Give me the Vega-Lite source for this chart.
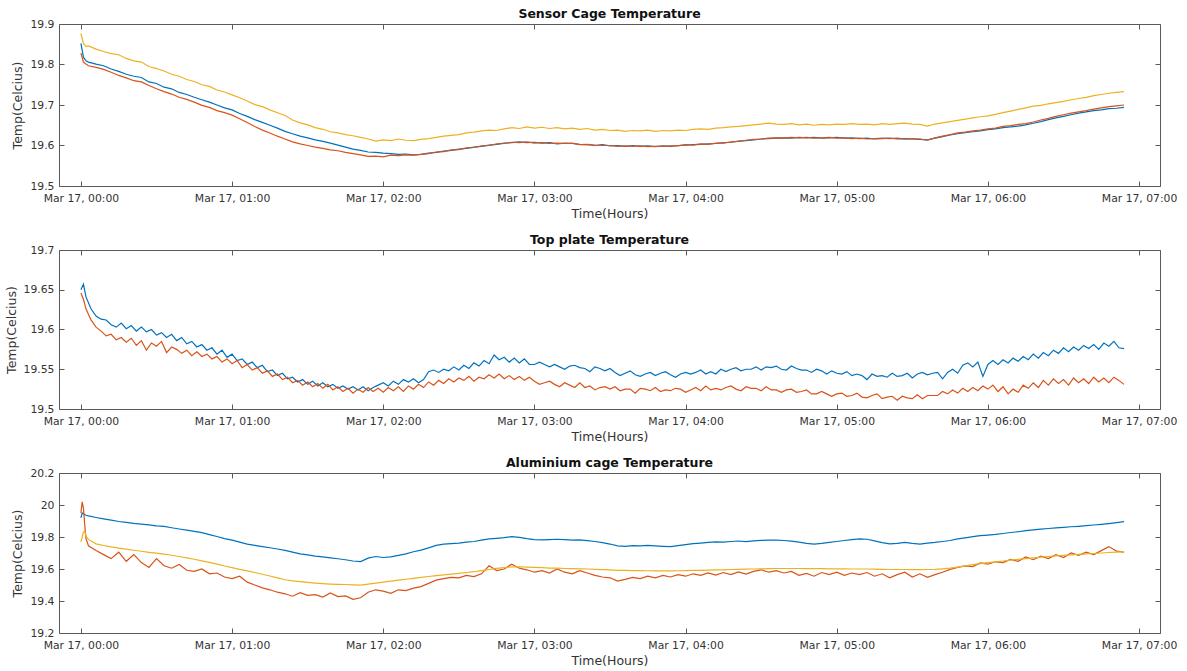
{
  "$schema": "https://vega.github.io/schema/vega-lite/v6.json",
  "padding": {"left": 4, "top": 7, "right": 5, "bottom": 2},
  "background": "white",
  "spacing": 12,
  "config": {
    "font": "DejaVu Sans",
    "view": {"stroke": "#5a5a5a", "strokeWidth": 1},
    "axis": {
      "grid": false,
      "domain": false,
      "tickColor": "#5a5a5a",
      "tickSize": -5,
      "labelFont": "DejaVu Sans",
      "labelFontSize": 10.8,
      "labelColor": "#333333",
      "titleFont": "DejaVu Sans",
      "titleFontSize": 12.5,
      "titleFontWeight": "normal",
      "titleColor": "#333333"
    },
    "title": {"font": "DejaVu Sans", "fontSize": 12.5, "fontWeight": "bold", "color": "#111111", "frame": "group", "offset": -2},
    "line": {"strokeWidth": 1.2, "clip": true}
  },
  "datasets": {
    "sensor": [
      {"t":0,"b":19.852,"r":19.828,"y":19.877},{"t":1,"b":19.818,"r":19.806,"y":19.852},{"t":2,"b":19.809,"r":19.801,"y":19.845},
      {"t":3,"b":19.806,"r":19.797,"y":19.846},{"t":6,"b":19.801,"r":19.793,"y":19.838},{"t":9,"b":19.797,"r":19.788,"y":19.832},
      {"t":12,"b":19.789,"r":19.781,"y":19.827},{"t":15,"b":19.783,"r":19.773,"y":19.824},{"t":18,"b":19.776,"r":19.767,"y":19.815},
      {"t":21,"b":19.771,"r":19.760,"y":19.809},{"t":24,"b":19.768,"r":19.757,"y":19.806},{"t":27,"b":19.757,"r":19.748,"y":19.795},
      {"t":30,"b":19.753,"r":19.740,"y":19.790},{"t":33,"b":19.744,"r":19.733,"y":19.784},{"t":36,"b":19.740,"r":19.727,"y":19.776},
      {"t":39,"b":19.731,"r":19.719,"y":19.771},{"t":42,"b":19.726,"r":19.714,"y":19.763},{"t":45,"b":19.719,"r":19.707,"y":19.758},
      {"t":48,"b":19.713,"r":19.699,"y":19.750},{"t":51,"b":19.707,"r":19.694,"y":19.746},{"t":54,"b":19.700,"r":19.686,"y":19.737},
      {"t":57,"b":19.693,"r":19.681,"y":19.732},{"t":60,"b":19.688,"r":19.675,"y":19.725},{"t":63,"b":19.679,"r":19.666,"y":19.718},
      {"t":66,"b":19.672,"r":19.657,"y":19.710},{"t":69,"b":19.664,"r":19.647,"y":19.701},{"t":72,"b":19.657,"r":19.638,"y":19.696},
      {"t":75,"b":19.650,"r":19.631,"y":19.688},{"t":78,"b":19.643,"r":19.623,"y":19.681},{"t":81,"b":19.635,"r":19.616,"y":19.674},
      {"t":84,"b":19.629,"r":19.609,"y":19.663},{"t":87,"b":19.623,"r":19.604,"y":19.656},{"t":90,"b":19.619,"r":19.600,"y":19.651},
      {"t":93,"b":19.614,"r":19.596,"y":19.644},{"t":96,"b":19.610,"r":19.593,"y":19.640},{"t":99,"b":19.606,"r":19.589,"y":19.634},
      {"t":102,"b":19.601,"r":19.587,"y":19.631},{"t":105,"b":19.596,"r":19.583,"y":19.627},{"t":108,"b":19.591,"r":19.580,"y":19.624},
      {"t":111,"b":19.588,"r":19.577,"y":19.620},{"t":114,"b":19.584,"r":19.573,"y":19.616},{"t":117,"b":19.583,"r":19.574,"y":19.611},
      {"t":120,"b":19.581,"r":19.572,"y":19.614},{"t":123,"b":19.580,"r":19.576,"y":19.612},{"t":126,"b":19.578,"r":19.575,"y":19.616},
      {"t":129,"b":19.579,"r":19.577,"y":19.613},{"t":132,"b":19.577,"r":19.576,"y":19.612},{"t":135,"b":19.578,"r":19.578,"y":19.615},
      {"t":138,"b":19.581,"r":19.580,"y":19.617},{"t":141,"b":19.583,"r":19.584,"y":19.620},{"t":144,"b":19.586,"r":19.585,"y":19.623},
      {"t":147,"b":19.588,"r":19.589,"y":19.625},{"t":150,"b":19.591,"r":19.590,"y":19.627},{"t":153,"b":19.593,"r":19.594,"y":19.631},
      {"t":156,"b":19.596,"r":19.595,"y":19.633},{"t":159,"b":19.598,"r":19.599,"y":19.636},{"t":162,"b":19.601,"r":19.600,"y":19.638},
      {"t":165,"b":19.603,"r":19.604,"y":19.637},{"t":168,"b":19.606,"r":19.605,"y":19.641},{"t":171,"b":19.607,"r":19.608,"y":19.644},
      {"t":174,"b":19.609,"r":19.607,"y":19.642},{"t":177,"b":19.607,"r":19.609,"y":19.646},{"t":180,"b":19.608,"r":19.606,"y":19.643},
      {"t":183,"b":19.606,"r":19.607,"y":19.645},{"t":186,"b":19.607,"r":19.605,"y":19.642},{"t":189,"b":19.604,"r":19.606,"y":19.644},
      {"t":192,"b":19.606,"r":19.605,"y":19.641},{"t":195,"b":19.605,"r":19.606,"y":19.643},{"t":198,"b":19.603,"r":19.602,"y":19.640},
      {"t":201,"b":19.602,"r":19.603,"y":19.642},{"t":204,"b":19.600,"r":19.601,"y":19.638},{"t":207,"b":19.602,"r":19.600,"y":19.640},
      {"t":210,"b":19.599,"r":19.600,"y":19.637},{"t":213,"b":19.600,"r":19.598,"y":19.638},{"t":216,"b":19.598,"r":19.599,"y":19.635},
      {"t":219,"b":19.600,"r":19.598,"y":19.637},{"t":222,"b":19.598,"r":19.599,"y":19.636},{"t":225,"b":19.599,"r":19.597,"y":19.638},
      {"t":228,"b":19.597,"r":19.598,"y":19.635},{"t":231,"b":19.599,"r":19.598,"y":19.637},{"t":234,"b":19.598,"r":19.599,"y":19.636},
      {"t":237,"b":19.600,"r":19.599,"y":19.638},{"t":240,"b":19.601,"r":19.602,"y":19.637},{"t":243,"b":19.602,"r":19.601,"y":19.640},
      {"t":246,"b":19.603,"r":19.604,"y":19.641},{"t":249,"b":19.604,"r":19.603,"y":19.640},{"t":252,"b":19.605,"r":19.606,"y":19.643},
      {"t":255,"b":19.607,"r":19.606,"y":19.644},{"t":258,"b":19.608,"r":19.609,"y":19.646},{"t":261,"b":19.611,"r":19.610,"y":19.647},
      {"t":264,"b":19.612,"r":19.613,"y":19.649},{"t":267,"b":19.614,"r":19.615,"y":19.651},{"t":270,"b":19.616,"r":19.616,"y":19.653},
      {"t":273,"b":19.617,"r":19.618,"y":19.655},{"t":276,"b":19.618,"r":19.619,"y":19.653},{"t":279,"b":19.619,"r":19.618,"y":19.652},
      {"t":282,"b":19.618,"r":19.620,"y":19.654},{"t":285,"b":19.620,"r":19.619,"y":19.651},{"t":288,"b":19.619,"r":19.620,"y":19.653},
      {"t":291,"b":19.620,"r":19.618,"y":19.650},{"t":294,"b":19.618,"r":19.619,"y":19.652},{"t":297,"b":19.619,"r":19.620,"y":19.651},
      {"t":300,"b":19.620,"r":19.618,"y":19.653},{"t":303,"b":19.618,"r":19.619,"y":19.652},{"t":306,"b":19.619,"r":19.617,"y":19.654},
      {"t":309,"b":19.617,"r":19.618,"y":19.652},{"t":312,"b":19.618,"r":19.616,"y":19.653},{"t":315,"b":19.616,"r":19.617,"y":19.651},
      {"t":318,"b":19.617,"r":19.618,"y":19.654},{"t":321,"b":19.618,"r":19.617,"y":19.652},{"t":324,"b":19.616,"r":19.618,"y":19.654},
      {"t":327,"b":19.617,"r":19.616,"y":19.655},{"t":330,"b":19.616,"r":19.617,"y":19.653},{"t":333,"b":19.615,"r":19.616,"y":19.652},
      {"t":336,"b":19.614,"r":19.613,"y":19.648},{"t":339,"b":19.618,"r":19.619,"y":19.653},{"t":342,"b":19.622,"r":19.623,"y":19.656},
      {"t":345,"b":19.626,"r":19.627,"y":19.659},{"t":348,"b":19.629,"r":19.631,"y":19.662},{"t":351,"b":19.632,"r":19.633,"y":19.665},
      {"t":354,"b":19.634,"r":19.636,"y":19.668},{"t":357,"b":19.636,"r":19.638,"y":19.671},{"t":360,"b":19.639,"r":19.641,"y":19.673},
      {"t":363,"b":19.641,"r":19.643,"y":19.677},{"t":366,"b":19.644,"r":19.647,"y":19.681},{"t":369,"b":19.646,"r":19.649,"y":19.685},
      {"t":372,"b":19.648,"r":19.652,"y":19.689},{"t":375,"b":19.651,"r":19.654,"y":19.693},{"t":378,"b":19.655,"r":19.658,"y":19.697},
      {"t":381,"b":19.659,"r":19.663,"y":19.699},{"t":384,"b":19.664,"r":19.667,"y":19.703},{"t":387,"b":19.668,"r":19.672,"y":19.706},
      {"t":390,"b":19.672,"r":19.676,"y":19.709},{"t":393,"b":19.676,"r":19.680,"y":19.713},{"t":396,"b":19.680,"r":19.683,"y":19.716},
      {"t":399,"b":19.683,"r":19.686,"y":19.719},{"t":402,"b":19.686,"r":19.690,"y":19.723},{"t":405,"b":19.688,"r":19.693,"y":19.726},
      {"t":408,"b":19.691,"r":19.696,"y":19.729},{"t":411,"b":19.692,"r":19.698,"y":19.731},{"t":414,"b":19.694,"r":19.700,"y":19.733}
    ],
    "plate": [
      {"t":0,"b":19.650,"r":19.646},{"t":1,"b":19.657,"r":19.638},{"t":2,"b":19.641,"r":19.626},{"t":4,"b":19.626,"r":19.612},
      {"t":6,"b":19.617,"r":19.603},{"t":8,"b":19.613,"r":19.598},{"t":10,"b":19.612,"r":19.592},{"t":12,"b":19.606,"r":19.594},
      {"t":14,"b":19.603,"r":19.587},{"t":16,"b":19.608,"r":19.590},{"t":18,"b":19.601,"r":19.584},{"t":20,"b":19.605,"r":19.589},
      {"t":22,"b":19.598,"r":19.580},{"t":24,"b":19.603,"r":19.586},{"t":26,"b":19.597,"r":19.574},{"t":28,"b":19.600,"r":19.583},
      {"t":30,"b":19.593,"r":19.579},{"t":32,"b":19.596,"r":19.585},{"t":34,"b":19.590,"r":19.571},{"t":36,"b":19.594,"r":19.578},
      {"t":38,"b":19.586,"r":19.575},{"t":40,"b":19.590,"r":19.570},{"t":42,"b":19.582,"r":19.574},{"t":44,"b":19.585,"r":19.567},
      {"t":46,"b":19.578,"r":19.572},{"t":48,"b":19.581,"r":19.566},{"t":50,"b":19.574,"r":19.569},{"t":52,"b":19.577,"r":19.563},
      {"t":54,"b":19.569,"r":19.566},{"t":56,"b":19.574,"r":19.559},{"t":58,"b":19.565,"r":19.563},{"t":60,"b":19.569,"r":19.557},
      {"t":62,"b":19.561,"r":19.561},{"t":64,"b":19.563,"r":19.552},{"t":66,"b":19.556,"r":19.556},{"t":68,"b":19.559,"r":19.549},
      {"t":70,"b":19.552,"r":19.552},{"t":72,"b":19.555,"r":19.545},{"t":74,"b":19.547,"r":19.548},{"t":76,"b":19.549,"r":19.541},
      {"t":78,"b":19.542,"r":19.544},{"t":80,"b":19.545,"r":19.537},{"t":82,"b":19.538,"r":19.540},{"t":84,"b":19.540,"r":19.533},
      {"t":86,"b":19.534,"r":19.536},{"t":88,"b":19.537,"r":19.530},{"t":90,"b":19.531,"r":19.534},{"t":92,"b":19.535,"r":19.528},
      {"t":94,"b":19.529,"r":19.532},{"t":96,"b":19.533,"r":19.526},{"t":98,"b":19.528,"r":19.531},{"t":100,"b":19.531,"r":19.524},
      {"t":102,"b":19.526,"r":19.528},{"t":104,"b":19.529,"r":19.522},{"t":106,"b":19.525,"r":19.526},{"t":108,"b":19.528,"r":19.520},
      {"t":110,"b":19.524,"r":19.525},{"t":112,"b":19.528,"r":19.521},{"t":114,"b":19.523,"r":19.527},{"t":116,"b":19.527,"r":19.522},
      {"t":118,"b":19.530,"r":19.526},{"t":120,"b":19.533,"r":19.521},{"t":122,"b":19.529,"r":19.527},{"t":124,"b":19.535,"r":19.523},
      {"t":126,"b":19.531,"r":19.528},{"t":128,"b":19.537,"r":19.522},{"t":130,"b":19.534,"r":19.529},{"t":132,"b":19.538,"r":19.525},
      {"t":134,"b":19.533,"r":19.531},{"t":136,"b":19.537,"r":19.527},{"t":138,"b":19.547,"r":19.534},{"t":140,"b":19.549,"r":19.530},
      {"t":142,"b":19.546,"r":19.536},{"t":144,"b":19.550,"r":19.532},{"t":146,"b":19.548,"r":19.538},{"t":148,"b":19.553,"r":19.534},
      {"t":150,"b":19.549,"r":19.539},{"t":152,"b":19.555,"r":19.536},{"t":154,"b":19.551,"r":19.541},{"t":156,"b":19.558,"r":19.535},
      {"t":158,"b":19.554,"r":19.540},{"t":160,"b":19.561,"r":19.538},{"t":162,"b":19.557,"r":19.543},{"t":164,"b":19.568,"r":19.539},
      {"t":166,"b":19.562,"r":19.544},{"t":168,"b":19.565,"r":19.538},{"t":170,"b":19.559,"r":19.542},{"t":172,"b":19.564,"r":19.537},
      {"t":174,"b":19.558,"r":19.541},{"t":176,"b":19.563,"r":19.536},{"t":178,"b":19.556,"r":19.540},{"t":180,"b":19.556,"r":19.535},
      {"t":182,"b":19.559,"r":19.531},{"t":184,"b":19.556,"r":19.533},{"t":186,"b":19.553,"r":19.535},{"t":188,"b":19.556,"r":19.531},
      {"t":190,"b":19.553,"r":19.528},{"t":192,"b":19.550,"r":19.533},{"t":194,"b":19.554,"r":19.530},{"t":196,"b":19.555,"r":19.527},
      {"t":198,"b":19.552,"r":19.533},{"t":200,"b":19.551,"r":19.527},{"t":202,"b":19.547,"r":19.529},{"t":204,"b":19.553,"r":19.524},
      {"t":206,"b":19.551,"r":19.527},{"t":208,"b":19.548,"r":19.528},{"t":210,"b":19.551,"r":19.525},{"t":212,"b":19.546,"r":19.528},
      {"t":214,"b":19.542,"r":19.523},{"t":216,"b":19.545,"r":19.525},{"t":218,"b":19.548,"r":19.525},{"t":220,"b":19.543,"r":19.520},
      {"t":222,"b":19.541,"r":19.526},{"t":224,"b":19.544,"r":19.525},{"t":226,"b":19.546,"r":19.523},{"t":228,"b":19.542,"r":19.527},
      {"t":230,"b":19.545,"r":19.522},{"t":232,"b":19.547,"r":19.524},{"t":234,"b":19.543,"r":19.523},{"t":236,"b":19.540,"r":19.526},
      {"t":238,"b":19.544,"r":19.525},{"t":240,"b":19.546,"r":19.521},{"t":242,"b":19.544,"r":19.524},{"t":244,"b":19.546,"r":19.527},
      {"t":246,"b":19.549,"r":19.523},{"t":248,"b":19.544,"r":19.529},{"t":250,"b":19.547,"r":19.524},{"t":252,"b":19.544,"r":19.526},
      {"t":254,"b":19.550,"r":19.524},{"t":256,"b":19.547,"r":19.527},{"t":258,"b":19.550,"r":19.529},{"t":260,"b":19.552,"r":19.525},
      {"t":262,"b":19.548,"r":19.523},{"t":264,"b":19.550,"r":19.528},{"t":266,"b":19.550,"r":19.526},{"t":268,"b":19.553,"r":19.526},
      {"t":270,"b":19.549,"r":19.523},{"t":272,"b":19.553,"r":19.528},{"t":274,"b":19.552,"r":19.524},{"t":276,"b":19.554,"r":19.524},
      {"t":278,"b":19.550,"r":19.521},{"t":280,"b":19.549,"r":19.524},{"t":282,"b":19.554,"r":19.525},{"t":284,"b":19.551,"r":19.521},
      {"t":286,"b":19.549,"r":19.522},{"t":288,"b":19.549,"r":19.524},{"t":290,"b":19.546,"r":19.519},{"t":292,"b":19.550,"r":19.519},
      {"t":294,"b":19.548,"r":19.522},{"t":296,"b":19.544,"r":19.519},{"t":298,"b":19.548,"r":19.516},{"t":300,"b":19.545,"r":19.519},
      {"t":302,"b":19.544,"r":19.520},{"t":304,"b":19.547,"r":19.516},{"t":306,"b":19.542,"r":19.517},{"t":308,"b":19.544,"r":19.520},
      {"t":310,"b":19.542,"r":19.515},{"t":312,"b":19.537,"r":19.514},{"t":314,"b":19.544,"r":19.517},{"t":316,"b":19.541,"r":19.519},
      {"t":318,"b":19.542,"r":19.513},{"t":320,"b":19.540,"r":19.515},{"t":322,"b":19.545,"r":19.516},{"t":324,"b":19.541,"r":19.511},
      {"t":326,"b":19.542,"r":19.516},{"t":328,"b":19.545,"r":19.514},{"t":330,"b":19.539,"r":19.513},{"t":332,"b":19.544,"r":19.518},
      {"t":334,"b":19.546,"r":19.513},{"t":336,"b":19.543,"r":19.517},{"t":338,"b":19.545,"r":19.517},{"t":340,"b":19.546,"r":19.517},
      {"t":342,"b":19.538,"r":19.522},{"t":344,"b":19.546,"r":19.519},{"t":346,"b":19.550,"r":19.524},{"t":348,"b":19.545,"r":19.520},
      {"t":350,"b":19.555,"r":19.526},{"t":352,"b":19.558,"r":19.522},{"t":354,"b":19.553,"r":19.527},{"t":356,"b":19.559,"r":19.523},
      {"t":358,"b":19.541,"r":19.529},{"t":360,"b":19.556,"r":19.525},{"t":362,"b":19.561,"r":19.530},{"t":364,"b":19.556,"r":19.522},
      {"t":366,"b":19.562,"r":19.528},{"t":368,"b":19.558,"r":19.519},{"t":370,"b":19.564,"r":19.525},{"t":372,"b":19.560,"r":19.521},
      {"t":374,"b":19.566,"r":19.530},{"t":376,"b":19.562,"r":19.526},{"t":378,"b":19.569,"r":19.533},{"t":380,"b":19.564,"r":19.527},
      {"t":382,"b":19.571,"r":19.536},{"t":384,"b":19.567,"r":19.530},{"t":386,"b":19.574,"r":19.538},{"t":388,"b":19.570,"r":19.532},
      {"t":390,"b":19.577,"r":19.537},{"t":392,"b":19.572,"r":19.530},{"t":394,"b":19.578,"r":19.539},{"t":396,"b":19.574,"r":19.533},
      {"t":398,"b":19.580,"r":19.538},{"t":400,"b":19.576,"r":19.532},{"t":402,"b":19.581,"r":19.540},{"t":404,"b":19.575,"r":19.534},
      {"t":406,"b":19.583,"r":19.539},{"t":408,"b":19.579,"r":19.533},{"t":410,"b":19.585,"r":19.540},{"t":412,"b":19.577,"r":19.536},
      {"t":414,"b":19.576,"r":19.531}
    ],
    "aluminium": [
      {"t":0,"b":19.920,"r":19.950,"y":19.770},{"t":0.5,"b":19.950,"r":20.020,"y":19.800},{"t":1,"b":19.945,"r":19.980,"y":19.830},
      {"t":1.5,"b":19.940,"r":19.880,"y":19.840},{"t":2,"b":19.936,"r":19.790,"y":19.805},{"t":3,"b":19.932,"r":19.745,"y":19.785},
      {"t":6,"b":19.922,"r":19.715,"y":19.757},{"t":9,"b":19.913,"r":19.690,"y":19.747},{"t":12,"b":19.905,"r":19.665,"y":19.738},
      {"t":15,"b":19.897,"r":19.705,"y":19.731},{"t":18,"b":19.891,"r":19.648,"y":19.724},{"t":21,"b":19.885,"r":19.690,"y":19.717},
      {"t":24,"b":19.881,"r":19.640,"y":19.711},{"t":27,"b":19.876,"r":19.610,"y":19.704},{"t":30,"b":19.870,"r":19.665,"y":19.699},
      {"t":33,"b":19.866,"r":19.620,"y":19.693},{"t":36,"b":19.858,"r":19.605,"y":19.686},{"t":39,"b":19.850,"r":19.628,"y":19.678},
      {"t":42,"b":19.843,"r":19.592,"y":19.669},{"t":45,"b":19.835,"r":19.585,"y":19.661},{"t":48,"b":19.827,"r":19.600,"y":19.651},
      {"t":51,"b":19.815,"r":19.570,"y":19.641},{"t":54,"b":19.803,"r":19.575,"y":19.630},{"t":57,"b":19.790,"r":19.550,"y":19.619},
      {"t":60,"b":19.780,"r":19.540,"y":19.609},{"t":63,"b":19.768,"r":19.555,"y":19.598},{"t":66,"b":19.755,"r":19.518,"y":19.588},
      {"t":69,"b":19.748,"r":19.500,"y":19.578},{"t":72,"b":19.740,"r":19.482,"y":19.567},{"t":75,"b":19.733,"r":19.470,"y":19.556},
      {"t":78,"b":19.725,"r":19.455,"y":19.545},{"t":81,"b":19.716,"r":19.445,"y":19.533},{"t":84,"b":19.706,"r":19.430,"y":19.526},
      {"t":87,"b":19.695,"r":19.452,"y":19.521},{"t":90,"b":19.688,"r":19.435,"y":19.516},{"t":93,"b":19.680,"r":19.440,"y":19.512},
      {"t":96,"b":19.676,"r":19.425,"y":19.509},{"t":99,"b":19.670,"r":19.450,"y":19.506},{"t":102,"b":19.664,"r":19.428,"y":19.504},
      {"t":105,"b":19.658,"r":19.432,"y":19.503},{"t":108,"b":19.650,"r":19.410,"y":19.501},{"t":111,"b":19.646,"r":19.420,"y":19.499},
      {"t":114,"b":19.668,"r":19.455,"y":19.505},{"t":117,"b":19.678,"r":19.470,"y":19.512},{"t":120,"b":19.672,"r":19.462,"y":19.518},
      {"t":123,"b":19.676,"r":19.448,"y":19.524},{"t":126,"b":19.685,"r":19.470,"y":19.530},{"t":129,"b":19.695,"r":19.465,"y":19.536},
      {"t":132,"b":19.708,"r":19.480,"y":19.542},{"t":135,"b":19.718,"r":19.490,"y":19.548},{"t":138,"b":19.732,"r":19.510,"y":19.553},
      {"t":141,"b":19.748,"r":19.530,"y":19.558},{"t":144,"b":19.755,"r":19.540,"y":19.563},{"t":147,"b":19.758,"r":19.548,"y":19.568},
      {"t":150,"b":19.762,"r":19.545,"y":19.573},{"t":153,"b":19.768,"r":19.560,"y":19.578},{"t":156,"b":19.772,"r":19.552,"y":19.583},
      {"t":159,"b":19.780,"r":19.570,"y":19.590},{"t":162,"b":19.788,"r":19.620,"y":19.597},{"t":165,"b":19.792,"r":19.590,"y":19.604},
      {"t":168,"b":19.796,"r":19.600,"y":19.609},{"t":171,"b":19.802,"r":19.630,"y":19.613},{"t":174,"b":19.798,"r":19.605,"y":19.614},
      {"t":177,"b":19.790,"r":19.595,"y":19.612},{"t":180,"b":19.784,"r":19.580,"y":19.610},{"t":183,"b":19.782,"r":19.590,"y":19.608},
      {"t":186,"b":19.784,"r":19.575,"y":19.606},{"t":189,"b":19.786,"r":19.600,"y":19.605},{"t":192,"b":19.783,"r":19.580,"y":19.603},
      {"t":195,"b":19.780,"r":19.570,"y":19.602},{"t":198,"b":19.782,"r":19.590,"y":19.601},{"t":201,"b":19.777,"r":19.575,"y":19.600},
      {"t":204,"b":19.772,"r":19.560,"y":19.598},{"t":207,"b":19.765,"r":19.550,"y":19.596},{"t":210,"b":19.756,"r":19.545,"y":19.594},
      {"t":213,"b":19.745,"r":19.525,"y":19.592},{"t":216,"b":19.742,"r":19.535,"y":19.591},{"t":219,"b":19.746,"r":19.548,"y":19.590},
      {"t":222,"b":19.744,"r":19.540,"y":19.590},{"t":225,"b":19.748,"r":19.555,"y":19.589},{"t":228,"b":19.745,"r":19.545,"y":19.588},
      {"t":231,"b":19.742,"r":19.560,"y":19.588},{"t":234,"b":19.740,"r":19.550,"y":19.588},{"t":237,"b":19.746,"r":19.565,"y":19.589},
      {"t":240,"b":19.752,"r":19.555,"y":19.590},{"t":243,"b":19.758,"r":19.570,"y":19.591},{"t":246,"b":19.762,"r":19.560,"y":19.592},
      {"t":249,"b":19.766,"r":19.575,"y":19.593},{"t":252,"b":19.770,"r":19.562,"y":19.594},{"t":255,"b":19.768,"r":19.578,"y":19.595},
      {"t":258,"b":19.772,"r":19.565,"y":19.597},{"t":261,"b":19.775,"r":19.582,"y":19.598},{"t":264,"b":19.771,"r":19.568,"y":19.599},
      {"t":267,"b":19.776,"r":19.585,"y":19.600},{"t":270,"b":19.779,"r":19.595,"y":19.601},{"t":273,"b":19.781,"r":19.580,"y":19.602},
      {"t":276,"b":19.780,"r":19.590,"y":19.603},{"t":279,"b":19.778,"r":19.575,"y":19.603},{"t":282,"b":19.774,"r":19.585,"y":19.603},
      {"t":285,"b":19.768,"r":19.560,"y":19.603},{"t":288,"b":19.760,"r":19.572,"y":19.602},{"t":291,"b":19.756,"r":19.555,"y":19.602},
      {"t":294,"b":19.760,"r":19.578,"y":19.602},{"t":297,"b":19.766,"r":19.565,"y":19.601},{"t":300,"b":19.772,"r":19.580,"y":19.601},
      {"t":303,"b":19.778,"r":19.560,"y":19.601},{"t":306,"b":19.784,"r":19.575,"y":19.600},{"t":309,"b":19.788,"r":19.565,"y":19.600},
      {"t":312,"b":19.786,"r":19.578,"y":19.600},{"t":315,"b":19.776,"r":19.555,"y":19.599},{"t":318,"b":19.765,"r":19.570,"y":19.598},
      {"t":321,"b":19.757,"r":19.545,"y":19.597},{"t":324,"b":19.760,"r":19.565,"y":19.597},{"t":327,"b":19.766,"r":19.580,"y":19.597},
      {"t":330,"b":19.760,"r":19.550,"y":19.596},{"t":333,"b":19.756,"r":19.570,"y":19.596},{"t":336,"b":19.762,"r":19.548,"y":19.597},
      {"t":339,"b":19.766,"r":19.565,"y":19.598},{"t":342,"b":19.772,"r":19.580,"y":19.601},{"t":345,"b":19.778,"r":19.598,"y":19.605},
      {"t":348,"b":19.788,"r":19.610,"y":19.612},{"t":351,"b":19.795,"r":19.620,"y":19.620},{"t":354,"b":19.802,"r":19.615,"y":19.627},
      {"t":357,"b":19.808,"r":19.638,"y":19.634},{"t":360,"b":19.812,"r":19.630,"y":19.640},{"t":363,"b":19.816,"r":19.645,"y":19.645},
      {"t":366,"b":19.822,"r":19.640,"y":19.650},{"t":369,"b":19.828,"r":19.660,"y":19.655},{"t":372,"b":19.833,"r":19.648,"y":19.660},
      {"t":375,"b":19.840,"r":19.675,"y":19.665},{"t":378,"b":19.845,"r":19.658,"y":19.670},{"t":381,"b":19.849,"r":19.680,"y":19.674},
      {"t":384,"b":19.853,"r":19.665,"y":19.678},{"t":387,"b":19.857,"r":19.690,"y":19.682},{"t":390,"b":19.860,"r":19.672,"y":19.685},
      {"t":393,"b":19.864,"r":19.700,"y":19.688},{"t":396,"b":19.867,"r":19.685,"y":19.691},{"t":399,"b":19.871,"r":19.705,"y":19.694},
      {"t":402,"b":19.875,"r":19.690,"y":19.697},{"t":405,"b":19.879,"r":19.715,"y":19.700},{"t":408,"b":19.884,"r":19.740,"y":19.703},
      {"t":411,"b":19.890,"r":19.712,"y":19.706},{"t":414,"b":19.896,"r":19.705,"y":19.709}
    ]
  },
  "vconcat": [
    {
      "title": {"text": "Sensor Cage Temperature"},
      "width": 1101,
      "height": 162,
      "data": {"name": "sensor"},
      "transform": [{"fold": ["b", "r", "y"], "as": ["series", "temp"]}],
      "layer": [
        {
          "transform": [{"filter": "datum.series != 'y'"}],
          "mark": {"type": "line"},
          "encoding": {
            "x": {"field": "t", "type": "quantitative", "scale": {"domain": [-8.7, 428.3], "nice": false, "zero": false},
              "axis": {"orient": "bottom", "values": [0, 60, 120, 180, 240, 300, 360, 420], "labelExpr": "'Mar 17, 0' + datum.value / 60 + ':00'", "labelPadding": 11, "labelFlush": false, "labelBound": false, "title": "Time(Hours)", "titlePadding": 5}},
            "y": {"field": "temp", "type": "quantitative", "scale": {"domain": [19.5, 19.9], "nice": false, "zero": false},
              "axis": {"orient": "left", "values": [19.5, 19.6, 19.7, 19.8, 19.9], "format": "~g", "labelPadding": 10, "minExtent": 35, "maxExtent": 35, "title": "Temp(Celcius)", "titlePadding": 0}},
            "color": {"field": "series", "type": "nominal", "scale": {"domain": ["b", "r", "y"], "range": ["#0072BD", "#D95319", "#EDB120"]}, "legend": null}
          }
        },
        {
          "transform": [{"filter": "datum.series == 'y'"}],
          "mark": {"type": "line"},
          "encoding": {
            "x": {"field": "t", "type": "quantitative", "scale": {"domain": [-8.7, 428.3], "nice": false, "zero": false},
              "axis": {"orient": "top", "values": [0, 60, 120, 180, 240, 300, 360, 420], "labels": false, "title": null, "minExtent": 0, "maxExtent": 0}},
            "y": {"field": "temp", "type": "quantitative", "scale": {"domain": [19.5, 19.9], "nice": false, "zero": false},
              "axis": {"orient": "right", "values": [19.5, 19.6, 19.7, 19.8, 19.9], "labels": false, "title": null, "minExtent": 0, "maxExtent": 0}},
            "color": {"field": "series", "type": "nominal", "scale": {"domain": ["b", "r", "y"], "range": ["#0072BD", "#D95319", "#EDB120"]}, "legend": null}
          }
        }
      ],
      "resolve": {"axis": {"x": "independent", "y": "independent"}}
    },
    {
      "title": {"text": "Top plate Temperature"},
      "width": 1101,
      "height": 159,
      "data": {"name": "plate"},
      "transform": [{"fold": ["b", "r"], "as": ["series", "temp"]}],
      "layer": [
        {
          "transform": [{"filter": "datum.series == 'b'"}],
          "mark": {"type": "line"},
          "encoding": {
            "x": {"field": "t", "type": "quantitative", "scale": {"domain": [-8.7, 428.3], "nice": false, "zero": false},
              "axis": {"orient": "bottom", "values": [0, 60, 120, 180, 240, 300, 360, 420], "labelExpr": "'Mar 17, 0' + datum.value / 60 + ':00'", "labelPadding": 11, "labelFlush": false, "labelBound": false, "title": "Time(Hours)", "titlePadding": 5}},
            "y": {"field": "temp", "type": "quantitative", "scale": {"domain": [19.5, 19.7], "nice": false, "zero": false},
              "axis": {"orient": "left", "values": [19.5, 19.55, 19.6, 19.65, 19.7], "format": "~g", "labelPadding": 10, "minExtent": 41, "maxExtent": 41, "title": "Temp(Celcius)", "titlePadding": 0}},
            "color": {"field": "series", "type": "nominal", "scale": {"domain": ["b", "r"], "range": ["#0072BD", "#D95319"]}, "legend": null}
          }
        },
        {
          "transform": [{"filter": "datum.series == 'r'"}],
          "mark": {"type": "line"},
          "encoding": {
            "x": {"field": "t", "type": "quantitative", "scale": {"domain": [-8.7, 428.3], "nice": false, "zero": false},
              "axis": {"orient": "top", "values": [0, 60, 120, 180, 240, 300, 360, 420], "labels": false, "title": null, "minExtent": 0, "maxExtent": 0}},
            "y": {"field": "temp", "type": "quantitative", "scale": {"domain": [19.5, 19.7], "nice": false, "zero": false},
              "axis": {"orient": "right", "values": [19.5, 19.55, 19.6, 19.65, 19.7], "labels": false, "title": null, "minExtent": 0, "maxExtent": 0}},
            "color": {"field": "series", "type": "nominal", "scale": {"domain": ["b", "r"], "range": ["#0072BD", "#D95319"]}, "legend": null}
          }
        }
      ],
      "resolve": {"axis": {"x": "independent", "y": "independent"}}
    },
    {
      "title": {"text": "Aluminium cage Temperature"},
      "width": 1101,
      "height": 160,
      "data": {"name": "aluminium"},
      "transform": [{"fold": ["b", "r", "y"], "as": ["series", "temp"]}],
      "layer": [
        {
          "transform": [{"filter": "datum.series != 'y'"}],
          "mark": {"type": "line"},
          "encoding": {
            "x": {"field": "t", "type": "quantitative", "scale": {"domain": [-8.7, 428.3], "nice": false, "zero": false},
              "axis": {"orient": "bottom", "values": [0, 60, 120, 180, 240, 300, 360, 420], "labelExpr": "'Mar 17, 0' + datum.value / 60 + ':00'", "labelPadding": 11, "labelFlush": false, "labelBound": false, "title": "Time(Hours)", "titlePadding": 5}},
            "y": {"field": "temp", "type": "quantitative", "scale": {"domain": [19.2, 20.2], "nice": false, "zero": false},
              "axis": {"orient": "left", "values": [19.2, 19.4, 19.6, 19.8, 20, 20.2], "format": "~g", "labelPadding": 10, "minExtent": 35, "maxExtent": 35, "title": "Temp(Celcius)", "titlePadding": 0}},
            "color": {"field": "series", "type": "nominal", "scale": {"domain": ["b", "r", "y"], "range": ["#0072BD", "#D95319", "#EDB120"]}, "legend": null}
          }
        },
        {
          "transform": [{"filter": "datum.series == 'y'"}],
          "mark": {"type": "line"},
          "encoding": {
            "x": {"field": "t", "type": "quantitative", "scale": {"domain": [-8.7, 428.3], "nice": false, "zero": false},
              "axis": {"orient": "top", "values": [0, 60, 120, 180, 240, 300, 360, 420], "labels": false, "title": null, "minExtent": 0, "maxExtent": 0}},
            "y": {"field": "temp", "type": "quantitative", "scale": {"domain": [19.2, 20.2], "nice": false, "zero": false},
              "axis": {"orient": "right", "values": [19.2, 19.4, 19.6, 19.8, 20, 20.2], "labels": false, "title": null, "minExtent": 0, "maxExtent": 0}},
            "color": {"field": "series", "type": "nominal", "scale": {"domain": ["b", "r", "y"], "range": ["#0072BD", "#D95319", "#EDB120"]}, "legend": null}
          }
        }
      ],
      "resolve": {"axis": {"x": "independent", "y": "independent"}}
    }
  ]
}
